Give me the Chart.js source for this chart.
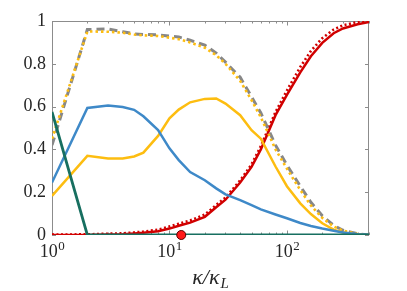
<!DOCTYPE html>
<html>
<head>
<meta charset="utf-8">
<script src="https://cdn.jsdelivr.net/npm/chart.js@4"></script>
<style>
  html, body { margin: 0; padding: 0; background: #fff; }
  #wrap { width: 407px; height: 291px; }
</style>
</head>
<body>
<div id="wrap"><canvas id="chart" width="407" height="291"></canvas></div>
<script>
// sample points of kappa / kappa_L (log axis)
const kappa = [1, 2, 3, 4, 5, 6, 8, 10, 12, 15, 20, 25, 30, 40, 50, 60, 80, 100, 130, 160, 200, 250, 300, 400, 500];

// series
const blueVals   = [0.245, 0.594, 0.605, 0.598, 0.585, 0.555, 0.49, 0.405, 0.35, 0.294, 0.256, 0.218, 0.19, 0.163, 0.14, 0.12, 0.096, 0.078, 0.056, 0.042, 0.03, 0.02, 0.012, 0.004, 0.001];
const yellowVals = [0.183, 0.37, 0.358, 0.357, 0.367, 0.385, 0.463, 0.545, 0.586, 0.62, 0.636, 0.638, 0.614, 0.56, 0.49, 0.45, 0.32, 0.228, 0.148, 0.098, 0.055, 0.025, 0.012, 0.003, 0];
const yellowDotVals = [0.45, 0.951, 0.95, 0.945, 0.937, 0.933, 0.93, 0.922, 0.915, 0.9, 0.875, 0.84, 0.8, 0.72, 0.63, 0.55, 0.4, 0.31, 0.21, 0.138, 0.08, 0.04, 0.02, 0.005, 0];
const grayVals   = [0.42, 0.96, 0.963, 0.95, 0.94, 0.937, 0.935, 0.93, 0.925, 0.91, 0.887, 0.85, 0.808, 0.737, 0.646, 0.57, 0.42, 0.326, 0.228, 0.153, 0.09, 0.045, 0.022, 0.006, 0];
const redVals    = [0, 0, 0.002, 0.004, 0.007, 0.01, 0.018, 0.03, 0.043, 0.058, 0.085, 0.13, 0.165, 0.245, 0.318, 0.4, 0.56, 0.655, 0.76, 0.835, 0.898, 0.943, 0.965, 0.985, 0.995];
const redDotVals = [0.002, 0.003, 0.006, 0.008, 0.012, 0.016, 0.025, 0.04, 0.053, 0.068, 0.095, 0.14, 0.175, 0.255, 0.33, 0.415, 0.575, 0.675, 0.785, 0.86, 0.92, 0.96, 0.98, 0.995, 1.0];
const tealVals   = [0.575, 0, 0, 0, 0, 0, 0, 0, 0, 0, 0, 0, 0, 0, 0, 0, 0, 0, 0, 0, 0, 0, 0, 0, 0];

// the single red marker on the axis
const markerX = [12.6];
const markerY = [0];

// ticks: x labels are 10 to a power, drawn with a real superscript
const xTickValues = [1, 10, 100];
const xTickExps = ['0', '1', '2'];
const yTickValues = [0, 0.2, 0.4, 0.6, 0.8, 1];
const yTickLabels = ['0', '0.2', '0.4', '0.6', '0.8', '1'];

function pts(vals) {
  return kappa.map((k, i) => ({ x: k, y: vals[i] }));
}

const FONT = '"Liberation Serif", "DejaVu Serif", serif';
const AXIS_COLOR = '#8c8c8c';
const TEXT_COLOR = '#262626';

// box round the plot, with inward ticks on all four sides
const boxPlugin = {
  id: 'boxPlugin',
  beforeDatasetsDraw(chart) {
    const { ctx, chartArea: a, scales: { x, y } } = chart;
    ctx.save();
    ctx.strokeStyle = AXIS_COLOR;
    ctx.lineWidth = 1;
    ctx.strokeRect(a.left + 0.5, a.top + 0.5, a.right - a.left - 1, a.bottom - a.top - 1);
    ctx.beginPath();
    x.ticks.forEach(t => {
      const px = Math.round(x.getPixelForValue(t.value)) + 0.5;
      const lg = Math.log10(t.value);
      const len = Math.abs(lg - Math.round(lg)) < 1e-9 ? 4.5 : 2.5;
      ctx.moveTo(px, a.bottom); ctx.lineTo(px, a.bottom - len);
      ctx.moveTo(px, a.top); ctx.lineTo(px, a.top + len);
    });
    y.ticks.forEach(t => {
      const py = Math.round(y.getPixelForValue(t.value)) + 0.5;
      ctx.moveTo(a.left, py); ctx.lineTo(a.left + 4, py);
      ctx.moveTo(a.right, py); ctx.lineTo(a.right - 4, py);
    });
    ctx.stroke();
    ctx.restore();
  },
  afterDraw(chart) {
    const { ctx, chartArea: a, scales: { x } } = chart;
    ctx.save();
    ctx.fillStyle = TEXT_COLOR;
    ctx.textBaseline = 'alphabetic';
    ctx.textAlign = 'left';

    // x tick labels 10^n
    xTickValues.forEach((v, i) => {
      const px = x.getPixelForValue(v);
      ctx.font = '18px ' + FONT;
      const wb = ctx.measureText('10').width;
      ctx.font = '13px ' + FONT;
      const we = ctx.measureText(xTickExps[i]).width;
      const x0 = px - (wb + we) / 2;
      ctx.font = '18px ' + FONT;
      ctx.fillText('10', x0, 256.5);
      ctx.font = '13px ' + FONT;
      ctx.fillText(xTickExps[i], x0 + wb + 0.5, 250);
    });

    // x axis title: kappa / kappa_L
    const main = 'κ/κ';
    ctx.font = 'italic 22px ' + FONT;
    const w1 = ctx.measureText(main).width;
    ctx.font = 'italic 15px ' + FONT;
    const w2 = ctx.measureText('L').width;
    const cx = 210;
    const x0 = cx - (w1 + w2) / 2;
    ctx.font = 'italic 22px ' + FONT;
    ctx.fillText(main, x0, 283.5);
    ctx.font = 'italic 15px ' + FONT;
    ctx.fillText('L', x0 + w1 + 1, 287.5);
    ctx.restore();
  }
};

const ctx = document.getElementById('chart').getContext('2d');
new Chart(ctx, {
  type: 'line',
  data: {
    datasets: [
      { label: 'marker', type: 'scatter', data: markerX.map((v, i) => ({ x: v, y: markerY[i] })),
        backgroundColor: '#ff1a1a', borderColor: '#5a0000', borderWidth: 1, pointRadius: 4.5, clip: false, order: 0 },
      { label: 'teal', data: pts(tealVals), borderColor: '#176f60', borderWidth: 2.8, order: 1 },
      { label: 'blue', data: pts(blueVals), borderColor: '#3e89c8', borderWidth: 2.5, order: 2 },
      { label: 'yellow dotted', data: pts(yellowDotVals), borderColor: '#fdbd10', borderWidth: 2.6, borderDash: [2.5, 3], order: 3 },
      { label: 'gray dashed', data: pts(grayVals), borderColor: '#878787', borderWidth: 3, borderDash: [8, 5], order: 4 },
      { label: 'yellow', data: pts(yellowVals), borderColor: '#fdbd10', borderWidth: 2.5, order: 5 },
      { label: 'red dotted', data: pts(redDotVals), borderColor: '#d10000', borderWidth: 2.6, borderDash: [2, 2.5], order: 6 },
      { label: 'red', data: pts(redVals), borderColor: '#d10000', borderWidth: 2.5, order: 7 }
    ]
  },
  options: {
    responsive: false,
    animation: false,
    devicePixelRatio: 1,
    layout: { padding: { left: 0, top: 21, right: 38, bottom: 0 } },
    elements: {
      point: { radius: 0 },
      line: { tension: 0, borderCapStyle: 'butt', fill: false }
    },
    plugins: {
      legend: { display: false },
      tooltip: { enabled: false }
    },
    scales: {
      x: {
        type: 'logarithmic',
        min: 1,
        max: 500,
        afterBuildTicks(scale) {
          const t = [];
          for (let d = 1; d <= 100; d *= 10) {
            for (let m = 1; m <= 9; m++) {
              const v = m * d;
              if (v <= 500) t.push({ value: v });
            }
          }
          scale.ticks = t;
        },
        afterFit(scale) { scale.height = 56; },
        grid: { display: false, drawTicks: false },
        border: { display: false },
        ticks: {
          autoSkip: false,
          maxRotation: 0,
          font: { family: FONT, size: 18 },
          callback() { return ''; }
        }
      },
      y: {
        min: 0,
        max: 1,
        afterBuildTicks(scale) {
          scale.ticks = yTickValues.map(v => ({ value: v }));
        },
        afterFit(scale) { scale.width = 52; },
        grid: { display: false, drawTicks: false },
        border: { display: false },
        ticks: {
          padding: 6,
          color: TEXT_COLOR,
          font: { family: FONT, size: 18 },
          callback(v) {
            const i = yTickValues.findIndex(t => Math.abs(t - v) < 1e-9);
            return i >= 0 ? yTickLabels[i] : '';
          }
        }
      }
    }
  },
  plugins: [boxPlugin]
});
</script>
</body>
</html>
